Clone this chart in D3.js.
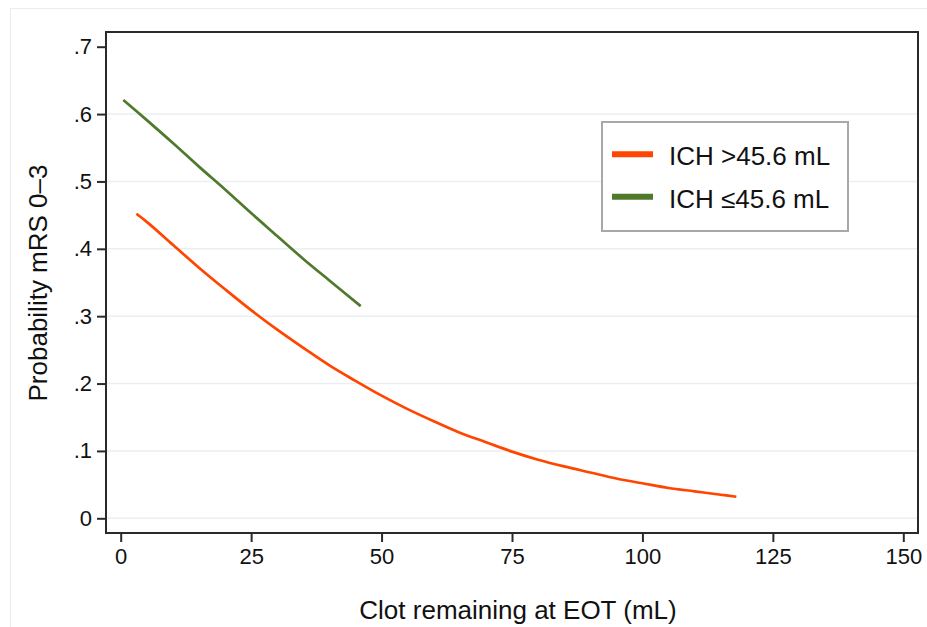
<!DOCTYPE html>
<html>
<head>
<meta charset="utf-8">
<script src="https://cdn.jsdelivr.net/npm/d3@7"></script>
<style>
  html, body { margin: 0; padding: 0; background: #fff; }
  svg { display: block; font-family: "Liberation Sans", Arial, sans-serif; }
</style>
</head>
<body>
<svg id="chart" width="927" height="627"></svg>
<script>
// ---- data ----
const largeX = [3, 5, 10, 15, 20, 25, 30, 35, 40, 45, 50, 55, 60, 65, 70, 75, 80, 85, 90, 95, 100, 105, 110, 115, 118];
const largeY = [0.452, 0.440, 0.406, 0.372, 0.340, 0.309, 0.280, 0.253, 0.227, 0.204, 0.182, 0.162, 0.144, 0.127, 0.113, 0.099, 0.087, 0.077, 0.068, 0.059, 0.052, 0.045, 0.040, 0.035, 0.032];
const smallX = [0.5, 5, 10, 15, 20, 25, 30, 35, 40, 46];
const smallY = [0.621, 0.591, 0.557, 0.522, 0.488, 0.453, 0.419, 0.385, 0.353, 0.315];
const seriesNames = ["ICH >45.6 mL", "ICH \u226445.6 mL"];
const seriesColors = ["#ff4500", "#4f7a2b"];
const xTicks = [0, 25, 50, 75, 100, 125, 150];
const yTicks = [0, 0.1, 0.2, 0.3, 0.4, 0.5, 0.6, 0.7];
const xTitle = "Clot remaining at EOT (mL)";
const yTitle = "Probability mRS 0\u20133";

const svg = d3.select("#chart");

// outer faint frame
svg.append("rect").attr("x", 10.5).attr("y", 8.5).attr("width", 930).attr("height", 640)
  .attr("fill", "none").attr("stroke", "#e6eef1").attr("stroke-width", 1);

const frame = {left: 106, top: 32, right: 918, bottom: 533};
const x = d3.scaleLinear().domain([0, 150]).range([120.7, 903.3]);
const y = d3.scaleLinear().domain([0, 0.7]).range([518.3, 46.7]);

// gridlines
svg.append("g").selectAll("line").data(yTicks.filter(d => d < 0.65)).join("line")
  .attr("x1", frame.left).attr("x2", frame.right)
  .attr("y1", d => y(d)).attr("y2", d => y(d))
  .attr("stroke", "#e8f0f3").attr("stroke-width", 1.5);

// lines
const line = d3.line().x(d => x(d[0])).y(d => y(d[1])).curve(d3.curveCatmullRom);
const series = [
  d3.zip(largeX, largeY),
  d3.zip(smallX, smallY)
];
svg.append("g").selectAll("path").data(series).join("path")
  .attr("d", line)
  .attr("fill", "none")
  .attr("stroke", (d, i) => seriesColors[i])
  .attr("stroke-width", 2.7);

// frame
svg.append("rect").attr("x", frame.left).attr("y", frame.top)
  .attr("width", frame.right - frame.left).attr("height", frame.bottom - frame.top)
  .attr("fill", "none").attr("stroke", "#2a2a2a").attr("stroke-width", 2);

// axes
const fmt = d => d === 0 ? "0" : d3.format(".1f")(d).replace(/^0/, "");
const yAxis = d3.axisLeft(y).tickValues(yTicks).tickFormat(fmt).tickSize(9).tickPadding(5);
const gy = svg.append("g").attr("transform", `translate(${frame.left},0)`).call(yAxis);
const xAxis = d3.axisBottom(x).tickValues(xTicks).tickSize(9).tickPadding(6);
const gx = svg.append("g").attr("transform", `translate(0,${frame.bottom})`).call(xAxis);
[gy, gx].forEach(g => {
  g.select(".domain").remove();
  g.selectAll(".tick line").attr("stroke", "#2a2a2a").attr("stroke-width", 2);
  g.selectAll(".tick text").attr("fill", "#111").style("font-size", "22px")
    .style("font-family", "'Liberation Sans', Arial, sans-serif");
});

// axis titles
svg.append("text").attr("x", 518).attr("y", 619)
  .attr("text-anchor", "middle").attr("fill", "#111").style("font-size", "26px").text(xTitle);
svg.append("text").attr("transform", "translate(47,283) rotate(-90)")
  .attr("text-anchor", "middle").attr("fill", "#111").style("font-size", "26px").text(yTitle);

// legend
const lg = svg.append("g");
lg.append("rect").attr("x", 602).attr("y", 122).attr("width", 246).attr("height", 109)
  .attr("fill", "#fff").attr("stroke", "#a8a8a8").attr("stroke-width", 2);
const items = lg.selectAll("g.item").data(seriesNames).join("g").attr("class", "item")
  .attr("transform", (d, i) => `translate(0,${154.3 + i * 42.4})`);
items.append("line").attr("x1", 612).attr("x2", 653).attr("y1", 0).attr("y2", 0)
  .attr("stroke", (d, i) => seriesColors[i]).attr("stroke-width", 6);
items.append("text").attr("x", 669).attr("y", 11).attr("fill", "#111")
  .style("font-size", "26px").text(d => d);
</script>
</body>
</html>
